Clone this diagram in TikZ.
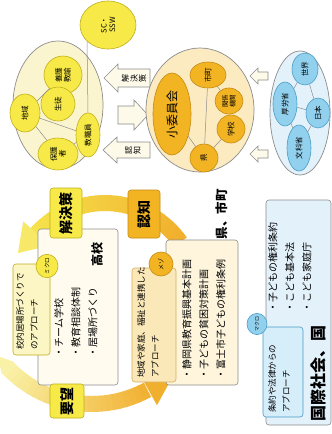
\documentclass[tikz,border=0pt]{standalone}
\usepackage{fontspec}
\setmainfont{Noto Sans CJK JP}
\usetikzlibrary{shapes.geometric}
\definecolor{pyel}{HTML}{FBF5CF}
\definecolor{yel}{HTML}{F7EA48}
\definecolor{yelb}{HTML}{BFAE1A}
\definecolor{pora}{HTML}{FCEAC0}
\definecolor{ora}{HTML}{F3B424}
\definecolor{orab}{HTML}{C48A12}
\definecolor{pblu}{HTML}{E3F1FA}
\definecolor{blu}{HTML}{92D1EE}
\definecolor{blub}{HTML}{4A9CC6}
\definecolor{gline}{HTML}{8C8C8C}
\definecolor{cream}{HTML}{FFFCEF}
\definecolor{creamb}{HTML}{FEF5DC}
\definecolor{bandO}{HTML}{F1AF2E}
\definecolor{bandY}{HTML}{F6E44C}
\definecolor{bandP}{HTML}{F9F1A6}
\definecolor{arrfill}{HTML}{FDFAEA}
\definecolor{mico}{HTML}{FCF6C4}
\definecolor{mezo}{HTML}{FBE8B8}
\definecolor{maku}{HTML}{D6EDFA}
\begin{document}
\begin{tikzpicture}[x=1pt,y=-1pt,
  ov/.style 2 args={ellipse, rotate=90, inner sep=0pt, minimum width=#2, minimum height=#1, align=center},
  lineE/.style={draw=gline, line width=0.7pt},
  yc/.style={fill=yel, draw=yelb, line width=0.6pt, font=\fontsize{7.5}{8.5}\selectfont},
  oc/.style={fill=ora, draw=orab, line width=0.6pt, font=\fontsize{7.5}{8.5}\selectfont},
  bc/.style={fill=blu, draw=blub, line width=0.6pt, font=\fontsize{7.5}{8.5}\selectfont},
  link/.style={draw=gline, line width=0.5pt},
  fat/.style={fill=arrfill, draw=gline, line width=0.6pt},
  rt/.style={rotate=90, inner sep=0pt, align=left},
  rtc/.style={rotate=90, inner sep=0pt, align=center},
  lbox/.style={rounded corners=3pt, line width=0.6pt},
  biglab/.style={rtc, font=\bfseries\fontsize{14}{15}\selectfont},
  bul/.style={rt, anchor=north west, font=\fontsize{10}{17}\selectfont},
  sm/.style={rt, anchor=north west, font=\fontsize{8.5}{14}\selectfont},
]
\fill[white] (0,0) rectangle (332,434);
\useasboundingbox (0,0) rectangle (332,434);

% ---------- school cluster ----------
\node[ov={90}{128}, fill=pyel, lineE] (schoolE) at (58,105) {};
\node[ov={56}{48}, yc] (sc) at (108,25) {SC・\\SSW};
\node[ov={38}{38}, yc] (yogo) at (63,75) {養護\\教諭};
\node[ov={34}{34}, yc] (seito) at (58,104) {生徒};
\node[ov={30}{38}, yc] (chiiki) at (25,113) {地域};
\node[ov={24}{44}, yc] (kyo) at (88,135) {教職員};
\node[ov={40}{32}, yc] (hogo) at (58,154) {保護\\者};
\coordinate (scfoot) at (87,41);
\draw[link] (kyo.east) -- (scfoot);
\draw[link] (yogo) -- (chiiki);
\draw[link] (chiiki) -- (kyo);
\draw[link] (chiiki) -- (hogo);
\draw[link] (hogo) -- (kyo);

% ---------- arrows school <-> ken ----------
\draw[fat] (104,78) -- (118,64) -- (118,69) -- (150,69) -- (150,87) -- (118,87) -- (118,92) -- cycle;
\node[rtc, font=\fontsize{8}{8.6}\selectfont] (aK) at (134,78) {解\\決\\策};
\draw[fat] (148,115) -- (134,100) -- (134,106) -- (118,106) -- (118,124) -- (134,124) -- (134,130) -- cycle;
\draw[fat] (103,150) -- (117,137) -- (117,142) -- (150,142) -- (150,158) -- (117,158) -- (117,163) -- cycle;
\node[rtc, font=\fontsize{8}{8.6}\selectfont] (aN) at (133,150) {認\\知};

% ---------- ken cluster ----------
\node[ov={108}{124}, fill=pora, lineE] (kenE) at (200,110) {};
\node[ov={38}{82}, oc, font=\fontsize{12}{13}\selectfont] (sub) at (172,114) {小委員会};
\node[ov={36}{26}, oc] (shicho) at (208,75) {市町};
\node[ov={28}{26}, oc, font=\fontsize{6.5}{7.5}\selectfont] (kikan) at (229,101) {関係\\機関};
\node[ov={28}{28}, oc] (gakko) at (231,129) {学校};
\node[ov={28}{28}, oc] (ken) at (204,158) {県};
\draw[link] (shicho) -- (ken);
\draw[link] (shicho) -- (kikan);
\draw[link] (kikan) -- (gakko);
\draw[link] (gakko) -- (ken);
\draw[link] (sub) -- (ken);

% ---------- arrows ken <- kuni ----------
\draw[fat] (250,76) -- (258,68) -- (258,72) -- (268,72) -- (268,80) -- (258,80) -- (258,84) -- cycle;
\draw[fat] (250,154) -- (258,146) -- (258,150) -- (268,150) -- (268,158) -- (258,158) -- (258,162) -- cycle;

% ---------- kuni cluster ----------
\node[ov={60}{124}, fill=pblu, lineE] (kuniE) at (300,113) {};
\node[ov={26}{32}, bc] (sekai) at (305,69) {世界};
\node[ov={24}{44}, bc] (koro) at (285,104) {厚労省};
\node[ov={24}{30}, bc] (nihon) at (318,113) {日本};
\node[ov={24}{46}, bc] (monka) at (299,148) {文科省};
\draw[link] (sekai) -- (koro);
\draw[link] (sekai) -- (nihon);
\draw[link] (koro) -- (nihon);
\draw[link] (nihon) -- (monka);
\draw[link] (koro) -- (monka);

% ---------- cycle bands ----------
\foreach \a in {325,322,...,223} {
  \pgfmathsetmacro\p{(\a-222)/103*100}
  \draw[line width=16pt, color=bandO!\p!bandY]
    ({105+92*cos(\a)},{295+92*sin(\a)}) -- ({105+92*cos(\a-3.6)},{295+92*sin(\a-3.6)});
}
\fill[bandY!85!white] ({105+110*cos(222)},{295+110*sin(222)}) -- (18,253) -- ({105+74*cos(222)},{295+74*sin(222)}) -- cycle;

\fill[bandP] ({92+108*cos(137)},{288+108*sin(137)}) -- ({92+116*cos(144)},{288+116*sin(144)}) -- ({92+124*cos(137)},{288+124*sin(137)}) -- cycle;
\foreach \a in {137,134,...,64} {
  \pgfmathsetmacro\p{(137-\a)/76*100}
  \draw[line width=16pt, color=bandO!\p!bandP]
    ({92+116*cos(\a)},{288+116*sin(\a)}) -- ({92+116*cos(\a-3.6)},{288+116*sin(\a-3.6)});
}
\fill[bandO] ({92+98*cos(61)},{288+98*sin(61)}) -- (173,376) -- ({92+134*cos(61)},{288+134*sin(61)}) -- cycle;

% ---------- koko ----------
\draw[lbox, fill=cream, draw=gline] (38,229) rectangle (118,385);
\draw[lbox, fill=mico, draw=yelb] (13,264) rectangle (50,355);
\node[ov={22}{22}, yc, font=\fontsize{5.5}{6}\selectfont] (micro) at (47,266) {ミクロ};
\node[sm] (microT) at (16,350) {校内居場所づくりで\\のアプローチ};
\node[rtc, font=\bfseries\fontsize{12}{13}\selectfont] (kokoL) at (97,254) {高校};
\node[bul] (kokoB) at (54,358) {・チーム学校\\・教育相談体制\\・居場所づくり};

% ---------- ken box ----------
\draw[lbox, fill=creamb, draw=gline] (166,240) rectangle (238,385);
\draw[lbox, fill=mezo, draw=orab!70] (132,268) rectangle (176,382);
\node[ov={24}{24}, oc, font=\fontsize{6}{6.5}\selectfont] (mezoC) at (161,264) {メゾ};
\node[sm] (mezoT) at (137,378) {地域や家庭、福祉と連携した\\アプローチ};
\node[rtc, font=\bfseries\fontsize{12.5}{13}\selectfont] (kenL) at (222,214) {県、市町};
\node[bul] (kenB) at (182,380) {・静岡県教育振興基本計画\\・子どもの貧困対策計画\\・富士市子どもの権利条例};

% ---------- kuni box ----------
\draw[lbox, fill=pblu, draw=gline] (266,200) rectangle (331,425);
\draw[lbox, fill=maku, draw=blub] (263,327) rectangle (303,417);
\node[ov={20}{20}, bc, font=\fontsize{5}{5.5}\selectfont] (macro) at (257,324) {マクロ};
\node[sm] (macroT) at (268,413) {条約や法律からの\\アプローチ};
\node[rtc, font=\bfseries\fontsize{16}{17}\selectfont] (kuniL) at (318,373) {国際社会、国};
\node[bul] (kuniB) at (268,313) {・子どもの権利条約\\・こども基本法\\・こども家庭庁};

% ---------- cycle labels ----------
\draw[lbox, fill=yel, draw=yelb] (50,188) rectangle (82,238);
\node[biglab] (kaiketsu) at (66,213) {解決策};
\draw[lbox, fill=ora, draw=orab] (128,190) rectangle (160,238);
\node[biglab] (ninchi) at (144,214) {認知};
\draw[lbox, fill=yel, draw=yelb] (50,384) rectangle (84,418);
\node[biglab] (yobo) at (67,401) {要望};
\end{tikzpicture}
\end{document}
